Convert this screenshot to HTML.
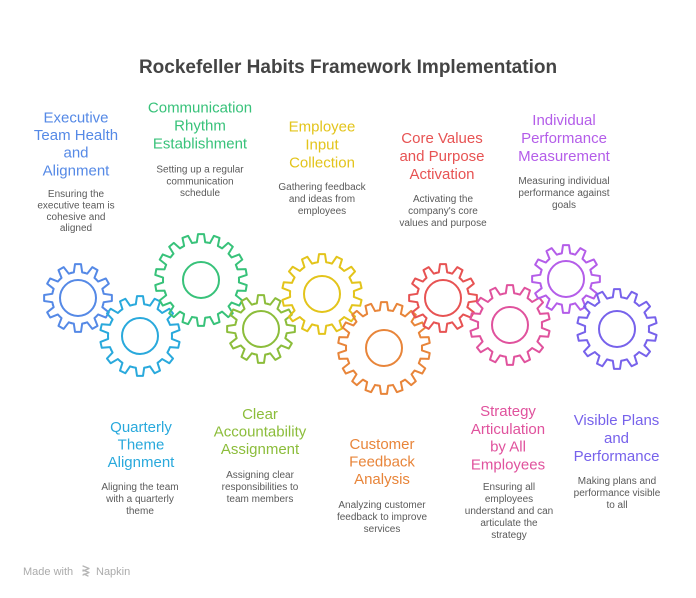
<!DOCTYPE html>
<html>
<head>
<meta charset="utf-8">
<style>
  html,body{margin:0;padding:0;background:#fff;}
  svg{display:block;}
  text{font-family:"Liberation Sans",Arial,sans-serif;}
  .t{font-size:15px;text-anchor:middle;}
  .d{font-size:10px;text-anchor:middle;fill:#5a5a5a;}
</style>
</head>
<body>
<svg width="696" height="598" viewBox="0 0 696 598" xmlns="http://www.w3.org/2000/svg">
  <defs>
    <path id="t12" d="M-6.729,-25.114 L-4.184,-25.662 L-2.996,-33.867 L2.996,-33.867 L4.184,-25.662 L6.729,-25.114" fill="none"/>
    <path id="t14" d="M-7.121,-31.198 L-4.188,-31.725 L-2.997,-39.888 L2.997,-39.888 L4.188,-31.725 L7.121,-31.198" fill="none"/>
    <path id="t18" d="M-6.599,-37.423 L-4.191,-37.768 L-3.000,-45.903 L3.000,-45.903 L4.191,-37.768 L6.599,-37.423" fill="none"/>
    <g id="g12" fill="none">
      <use href="#t12" transform="rotate(0)"/><use href="#t12" transform="rotate(30)"/>
      <use href="#t12" transform="rotate(60)"/><use href="#t12" transform="rotate(90)"/>
      <use href="#t12" transform="rotate(120)"/><use href="#t12" transform="rotate(150)"/>
      <use href="#t12" transform="rotate(180)"/><use href="#t12" transform="rotate(210)"/>
      <use href="#t12" transform="rotate(240)"/><use href="#t12" transform="rotate(270)"/>
      <use href="#t12" transform="rotate(300)"/><use href="#t12" transform="rotate(330)"/>
      <circle cx="0" cy="0" r="18"/>
    </g>
    <g id="g14" fill="none">
      <use href="#t14" transform="rotate(0)"/><use href="#t14" transform="rotate(25.714)"/>
      <use href="#t14" transform="rotate(51.429)"/><use href="#t14" transform="rotate(77.143)"/>
      <use href="#t14" transform="rotate(102.857)"/><use href="#t14" transform="rotate(128.571)"/>
      <use href="#t14" transform="rotate(154.286)"/><use href="#t14" transform="rotate(180)"/>
      <use href="#t14" transform="rotate(205.714)"/><use href="#t14" transform="rotate(231.429)"/>
      <use href="#t14" transform="rotate(257.143)"/><use href="#t14" transform="rotate(282.857)"/>
      <use href="#t14" transform="rotate(308.571)"/><use href="#t14" transform="rotate(334.286)"/>
      <circle cx="0" cy="0" r="18"/>
    </g>
    <g id="g18" fill="none">
      <use href="#t18" transform="rotate(0)"/><use href="#t18" transform="rotate(20)"/>
      <use href="#t18" transform="rotate(40)"/><use href="#t18" transform="rotate(60)"/>
      <use href="#t18" transform="rotate(80)"/><use href="#t18" transform="rotate(100)"/>
      <use href="#t18" transform="rotate(120)"/><use href="#t18" transform="rotate(140)"/>
      <use href="#t18" transform="rotate(160)"/><use href="#t18" transform="rotate(180)"/>
      <use href="#t18" transform="rotate(200)"/><use href="#t18" transform="rotate(220)"/>
      <use href="#t18" transform="rotate(240)"/><use href="#t18" transform="rotate(260)"/>
      <use href="#t18" transform="rotate(280)"/><use href="#t18" transform="rotate(300)"/>
      <use href="#t18" transform="rotate(320)"/><use href="#t18" transform="rotate(340)"/>
      <circle cx="0" cy="0" r="18"/>
    </g>
  </defs>

  <!-- Title -->
  <text x="348" y="73" text-anchor="middle" font-size="19" font-weight="bold" fill="#444444">Rockefeller Habits Framework Implementation</text>

  <!-- Gears -->
  <g stroke-width="2" stroke-linejoin="round" stroke-linecap="round" fill="none">
    <use href="#g12" transform="translate(78,298)" stroke="#5589e6"/>
    <use href="#g14" transform="translate(140,336)" stroke="#29a9dc"/>
    <use href="#g18" transform="translate(201,280)" stroke="#38c27a"/>
    <use href="#g12" transform="translate(261,329)" stroke="#8cbd3b"/>
    <use href="#g14" transform="translate(322,294)" stroke="#e3c41b"/>
    <use href="#g18" transform="translate(384,348)" stroke="#e8853a"/>
    <use href="#g12" transform="translate(443,298)" stroke="#e75353"/>
    <use href="#g14" transform="translate(510,325)" stroke="#e0529d"/>
    <use href="#g12" transform="translate(566,279)" stroke="#b45de9"/>
    <use href="#g14" transform="translate(617,329)" stroke="#7762eb"/>
  </g>

  <!-- Top labels -->
  <g fill="#5589e6">
    <text class="t" x="76" y="122.3">Executive</text>
    <text class="t" x="76" y="140">Team Health</text>
    <text class="t" x="76" y="157.7">and</text>
    <text class="t" x="76" y="175.7">Alignment</text>
  </g>
  <text class="d" x="76" y="197">Ensuring the</text>
  <text class="d" x="76" y="208.5">executive team is</text>
  <text class="d" x="76" y="220">cohesive and</text>
  <text class="d" x="76" y="231">aligned</text>

  <g fill="#38c27a">
    <text class="t" x="200" y="112.5">Communication</text>
    <text class="t" x="200" y="130.5">Rhythm</text>
    <text class="t" x="200" y="148.5">Establishment</text>
  </g>
  <text class="d" x="200" y="172.5">Setting up a regular</text>
  <text class="d" x="200" y="184.3">communication</text>
  <text class="d" x="200" y="196">schedule</text>

  <g fill="#e3c41b">
    <text class="t" x="322" y="131.5">Employee</text>
    <text class="t" x="322" y="149.5">Input</text>
    <text class="t" x="322" y="167.5">Collection</text>
  </g>
  <text class="d" x="322" y="190">Gathering feedback</text>
  <text class="d" x="322" y="202">and ideas from</text>
  <text class="d" x="322" y="214">employees</text>

  <g fill="#e75353">
    <text class="t" x="442" y="143">Core Values</text>
    <text class="t" x="442" y="161">and Purpose</text>
    <text class="t" x="442" y="179">Activation</text>
  </g>
  <text class="d" x="443" y="202">Activating the</text>
  <text class="d" x="443" y="214">company's core</text>
  <text class="d" x="443" y="226">values and purpose</text>

  <g fill="#b45de9">
    <text class="t" x="564" y="125">Individual</text>
    <text class="t" x="564" y="143">Performance</text>
    <text class="t" x="564" y="161">Measurement</text>
  </g>
  <text class="d" x="564" y="184">Measuring individual</text>
  <text class="d" x="564" y="196">performance against</text>
  <text class="d" x="564" y="208">goals</text>

  <!-- Bottom labels -->
  <g fill="#29a9dc">
    <text class="t" x="141" y="432">Quarterly</text>
    <text class="t" x="141" y="449.5">Theme</text>
    <text class="t" x="141" y="467">Alignment</text>
  </g>
  <text class="d" x="140" y="490">Aligning the team</text>
  <text class="d" x="140" y="502">with a quarterly</text>
  <text class="d" x="140" y="514">theme</text>

  <g fill="#8cbd3b">
    <text class="t" x="260" y="419">Clear</text>
    <text class="t" x="260" y="436.5">Accountability</text>
    <text class="t" x="260" y="454">Assignment</text>
  </g>
  <text class="d" x="260" y="478">Assigning clear</text>
  <text class="d" x="260" y="490">responsibilities to</text>
  <text class="d" x="260" y="502">team members</text>

  <g fill="#e8853a">
    <text class="t" x="382" y="449">Customer</text>
    <text class="t" x="382" y="466.7">Feedback</text>
    <text class="t" x="382" y="484">Analysis</text>
  </g>
  <text class="d" x="382" y="508">Analyzing customer</text>
  <text class="d" x="382" y="520">feedback to improve</text>
  <text class="d" x="382" y="532">services</text>

  <g fill="#e0529d">
    <text class="t" x="508" y="416">Strategy</text>
    <text class="t" x="508" y="434">Articulation</text>
    <text class="t" x="508" y="451.7">by All</text>
    <text class="t" x="508" y="469.7">Employees</text>
  </g>
  <text class="d" x="509" y="490">Ensuring all</text>
  <text class="d" x="509" y="502">employees</text>
  <text class="d" x="509" y="514">understand and can</text>
  <text class="d" x="509" y="526">articulate the</text>
  <text class="d" x="509" y="538">strategy</text>

  <g fill="#7762eb">
    <text class="t" x="616.5" y="425">Visible Plans</text>
    <text class="t" x="616.5" y="443">and</text>
    <text class="t" x="616.5" y="461">Performance</text>
  </g>
  <text class="d" x="617" y="484">Making plans and</text>
  <text class="d" x="617" y="496">performance visible</text>
  <text class="d" x="617" y="508">to all</text>

  <!-- Watermark -->
  <text x="23" y="575" font-size="11" fill="#ababab">Made with</text>
  <g stroke="#b5b5b5" stroke-width="1.3" fill="none" stroke-linecap="round" stroke-linejoin="round">
    <path d="M83,566 L89,568.5 L83,571"/>
    <path d="M83,570 L89,572.5 L83,575"/>
    <path d="M84,574 L88,576"/>
  </g>
  <text x="96" y="575" font-size="11" fill="#ababab">Napkin</text>
</svg>
</body>
</html>
